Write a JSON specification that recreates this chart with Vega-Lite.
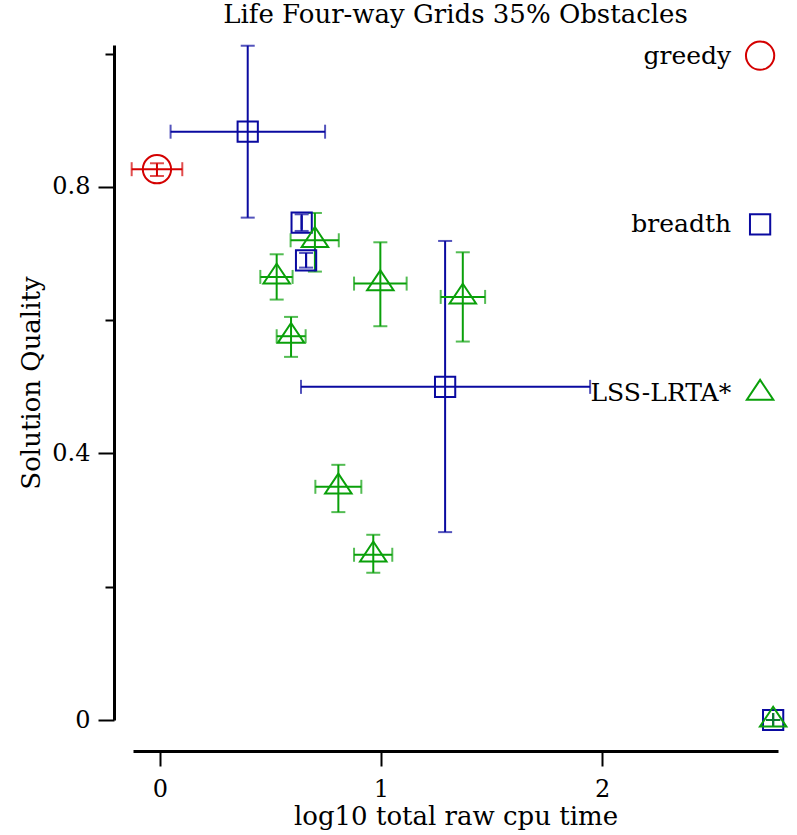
{
  "$schema": "https://vega.github.io/schema/vega-lite/v6.json",
  "width": 645,
  "height": 675,
  "autosize": {"type": "none"},
  "padding": {"left": 133, "top": 45, "right": 19, "bottom": 115},
  "title": {"text": "Life Four-way Grids 35% Obstacles", "font": "DejaVu Serif", "fontSize": 26, "fontWeight": "normal", "anchor": "middle", "offset": 9, "color": "black"},
  "data": {"values": [
    {"series": "greedy", "x": -0.0136, "y": 0.8267, "xlo": -0.128, "xhi": 0.101, "ylo": 0.8165, "yhi": 0.8356},
    {"series": "breadth", "x": 0.397, "y": 0.883, "xlo": 0.048, "xhi": 0.747, "ylo": 0.754, "yhi": 1.012},
    {"series": "breadth", "x": 0.641, "y": 0.7465, "xlo": 0.641, "xhi": 0.641, "ylo": 0.734, "yhi": 0.759},
    {"series": "breadth", "x": 0.661, "y": 0.69, "xlo": 0.661, "xhi": 0.661, "ylo": 0.679, "yhi": 0.701},
    {"series": "breadth", "x": 1.29, "y": 0.5, "xlo": 0.638, "xhi": 1.946, "ylo": 0.282, "yhi": 0.719},
    {"series": "breadth", "x": 2.774, "y": 0, "xlo": 2.774, "xhi": 2.774, "ylo": 0, "yhi": 0},
    {"series": "LSS-LRTA*", "x": 0.701, "y": 0.72, "xlo": 0.591, "xhi": 0.809, "ylo": 0.673, "yhi": 0.761},
    {"series": "LSS-LRTA*", "x": 0.528, "y": 0.665, "xlo": 0.454, "xhi": 0.6, "ylo": 0.631, "yhi": 0.699},
    {"series": "LSS-LRTA*", "x": 0.997, "y": 0.655, "xlo": 0.878, "xhi": 1.116, "ylo": 0.591, "yhi": 0.717},
    {"series": "LSS-LRTA*", "x": 1.37, "y": 0.635, "xlo": 1.27, "xhi": 1.471, "ylo": 0.568, "yhi": 0.702},
    {"series": "LSS-LRTA*", "x": 0.593, "y": 0.576, "xlo": 0.528, "xhi": 0.659, "ylo": 0.545, "yhi": 0.605},
    {"series": "LSS-LRTA*", "x": 0.807, "y": 0.35, "xlo": 0.703, "xhi": 0.911, "ylo": 0.312, "yhi": 0.383},
    {"series": "LSS-LRTA*", "x": 0.965, "y": 0.248, "xlo": 0.878, "xhi": 1.051, "ylo": 0.221, "yhi": 0.278},
    {"series": "LSS-LRTA*", "x": 2.774, "y": 0, "xlo": 2.774, "xhi": 2.774, "ylo": 0, "yhi": 0}
  ]},
  "layer": [
    {
      "encoding": {
        "x": {"scale": {"domain": [-0.122, 2.796], "nice": false, "zero": false},
          "axis": {"title": "log10 total raw cpu time", "values": [0, 0.5, 1, 1.5, 2, 2.5], "offset": 31, "format": "d",
            "labelExpr": "datum.value % 1 === 0 ? datum.label : ''",
            "tickSize": {"condition": {"test": "datum.value % 1 === 0", "value": 15}, "value": 8},
            "labelPadding": 11, "titlePadding": 2}},
        "y": {"scale": {"domain": [0, 1.0131], "nice": false, "zero": false},
          "axis": {"title": "Solution Quality", "values": [0, 0.2, 0.4, 0.6, 0.8, 1.0], "offset": 19, "format": ".1~f",
            "labelExpr": "round(datum.value*10) % 4 === 0 ? datum.label : ''",
            "tickSize": {"condition": {"test": "round(datum.value*10) % 4 === 0", "value": 16}, "value": 9},
            "labelPadding": 8, "titlePadding": 7}}
      },
      "layer": [
        {
          "mark": {"type": "rule", "strokeWidth": 2},
          "encoding": {
            "x": {"field": "x", "type": "quantitative"},
            "y": {"field": "ylo", "type": "quantitative"},
            "y2": {"field": "yhi"},
            "stroke": {"field": "series", "type": "nominal", "legend": null, "scale": {"domain": ["greedy", "breadth", "LSS-LRTA*"], "range": ["#d40000", "#0a0aa0", "#0aa00a"]}}
          }
        },
        {
          "mark": {"type": "rule", "strokeWidth": 2},
          "encoding": {
            "y": {"field": "y", "type": "quantitative"},
            "x": {"field": "xlo", "type": "quantitative"},
            "x2": {"field": "xhi"},
            "stroke": {"field": "series", "type": "nominal", "legend": null, "scale": {"domain": ["greedy", "breadth", "LSS-LRTA*"], "range": ["#d40000", "#0a0aa0", "#0aa00a"]}}
          }
        },
        {
          "mark": {"type": "tick", "orient": "horizontal", "size": 14, "thickness": 2},
          "encoding": {
            "x": {"field": "x", "type": "quantitative"},
            "y": {"field": "ylo", "type": "quantitative"},
            "fill": {"field": "series", "type": "nominal", "legend": null, "scale": {"domain": ["greedy", "breadth", "LSS-LRTA*"], "range": ["#d40000", "#0a0aa0", "#0aa00a"]}}
          }
        },
        {
          "mark": {"type": "tick", "orient": "horizontal", "size": 14, "thickness": 2},
          "encoding": {
            "x": {"field": "x", "type": "quantitative"},
            "y": {"field": "yhi", "type": "quantitative"},
            "fill": {"field": "series", "type": "nominal", "legend": null, "scale": {"domain": ["greedy", "breadth", "LSS-LRTA*"], "range": ["#d40000", "#0a0aa0", "#0aa00a"]}}
          }
        },
        {
          "mark": {"type": "tick", "orient": "vertical", "size": 14, "thickness": 2},
          "encoding": {
            "x": {"field": "xlo", "type": "quantitative"},
            "y": {"field": "y", "type": "quantitative"},
            "fill": {"field": "series", "type": "nominal", "legend": null, "scale": {"domain": ["greedy", "breadth", "LSS-LRTA*"], "range": ["#d40000", "#0a0aa0", "#0aa00a"]}}
          }
        },
        {
          "mark": {"type": "tick", "orient": "vertical", "size": 14, "thickness": 2},
          "encoding": {
            "x": {"field": "xhi", "type": "quantitative"},
            "y": {"field": "y", "type": "quantitative"},
            "fill": {"field": "series", "type": "nominal", "legend": null, "scale": {"domain": ["greedy", "breadth", "LSS-LRTA*"], "range": ["#d40000", "#0a0aa0", "#0aa00a"]}}
          }
        },
        {
          "mark": {"type": "point", "filled": false, "strokeWidth": 2, "opacity": 1},
          "encoding": {
            "x": {"field": "x", "type": "quantitative"},
            "y": {"field": "y", "type": "quantitative"},
            "color": {"field": "series", "type": "nominal", "legend": null, "scale": {"domain": ["greedy", "breadth", "LSS-LRTA*"], "range": ["#d40000", "#0a0aa0", "#0aa00a"]}},
            "shape": {"field": "series", "type": "nominal", "legend": null, "scale": {"domain": ["greedy", "breadth", "LSS-LRTA*"], "range": ["circle", "square", "M0,-1L1,0.5L-1,0.5Z"]}},
            "size": {"field": "series", "type": "nominal", "legend": null, "scale": {"type": "ordinal", "domain": ["greedy", "breadth", "LSS-LRTA*"], "range": [800, 410, 700]}}
          }
        }
      ]
    },
    {
      "transform": [{"aggregate": [{"op": "count", "as": "n"}], "groupby": ["series"]}],
      "encoding": {
        "y": {"field": "series", "type": "nominal", "axis": null,
          "scale": {"type": "point", "domain": ["greedy", "breadth", "LSS-LRTA*"], "padding": 8.64, "align": 0.0314}}
      },
      "layer": [
        {
          "mark": {"type": "text", "align": "right", "baseline": "middle", "font": "DejaVu Serif", "fontSize": 25, "color": "black"},
          "encoding": {
            "x": {"datum": 2.584, "type": "quantitative", "axis": null, "scale": {"domain": [-0.122, 2.796], "nice": false, "zero": false}},
            "text": {"field": "series"}
          }
        },
        {
          "mark": {"type": "point", "filled": false, "strokeWidth": 2, "opacity": 1},
          "encoding": {
            "x": {"datum": 2.715, "type": "quantitative", "axis": null, "scale": {"domain": [-0.122, 2.796], "nice": false, "zero": false}},
            "color": {"field": "series", "type": "nominal", "legend": null, "scale": {"domain": ["greedy", "breadth", "LSS-LRTA*"], "range": ["#d40000", "#0a0aa0", "#0aa00a"]}},
            "shape": {"field": "series", "type": "nominal", "legend": null, "scale": {"domain": ["greedy", "breadth", "LSS-LRTA*"], "range": ["circle", "square", "M0,-1L1,0.5L-1,0.5Z"]}},
            "size": {"field": "series", "type": "nominal", "legend": null, "scale": {"type": "ordinal", "domain": ["greedy", "breadth", "LSS-LRTA*"], "range": [800, 410, 700]}}
          }
        }
      ]
    }
  ],
  "resolve": {"scale": {"x": "independent", "y": "independent"}},
  "config": {
    "view": {"stroke": null},
    "font": "DejaVu Serif",
    "axis": {"domainColor": "black", "domainWidth": 3, "tickColor": "black", "tickWidth": 2, "grid": false,
      "labelColor": "black", "labelFont": "DejaVu Serif", "labelFontSize": 24,
      "titleFont": "DejaVu Serif", "titleFontSize": 26, "titleFontWeight": "normal", "titleColor": "black"}
  }
}
